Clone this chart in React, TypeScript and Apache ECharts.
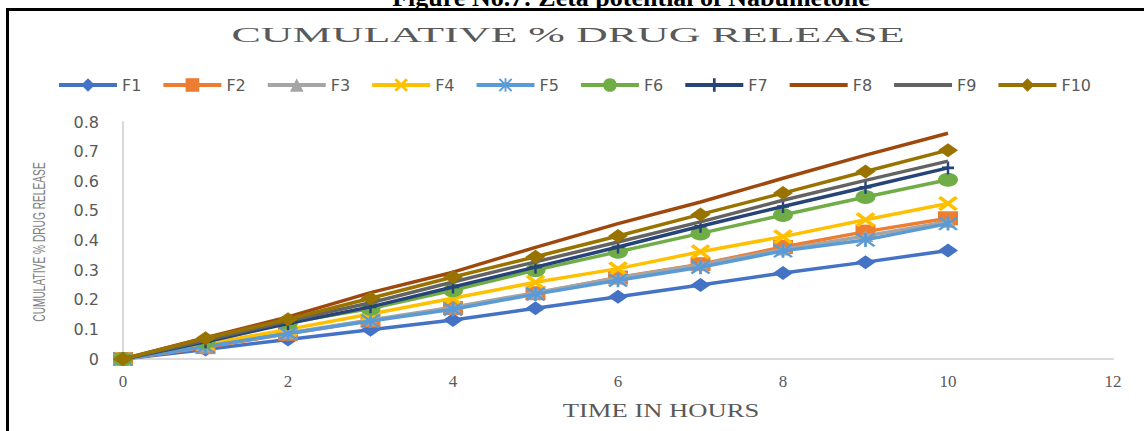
import React, { useEffect, useRef } from "react";
import * as echarts from "echarts";

const hours = [0, 1, 2, 3, 4, 5, 6, 7, 8, 9, 10];
const seriesNames = ["F1", "F2", "F3", "F4", "F5", "F6", "F7", "F8", "F9", "F10"];
const f1 = [0, 0.032, 0.066, 0.099, 0.132, 0.171, 0.21, 0.25, 0.29, 0.327, 0.366];
const f2 = [0, 0.04, 0.085, 0.13, 0.172, 0.222, 0.275, 0.32, 0.378, 0.43, 0.475];
const f3 = [0, 0.042, 0.088, 0.132, 0.175, 0.224, 0.274, 0.318, 0.37, 0.415, 0.463];
const f4 = [0, 0.05, 0.1, 0.152, 0.205, 0.259, 0.305, 0.362, 0.413, 0.47, 0.525];
const f5 = [0, 0.042, 0.086, 0.128, 0.168, 0.219, 0.266, 0.31, 0.365, 0.402, 0.457];
const f6 = [0, 0.058, 0.122, 0.17, 0.232, 0.3, 0.362, 0.424, 0.486, 0.547, 0.605];
const f7 = [0, 0.058, 0.12, 0.176, 0.243, 0.31, 0.378, 0.448, 0.515, 0.58, 0.645];
const f8 = [0, 0.072, 0.142, 0.224, 0.293, 0.377, 0.457, 0.53, 0.61, 0.688, 0.762];
const f9 = [0, 0.063, 0.128, 0.19, 0.26, 0.328, 0.395, 0.463, 0.536, 0.603, 0.668];
const f10 = [0, 0.07, 0.134, 0.205, 0.277, 0.345, 0.415, 0.488, 0.56, 0.633, 0.705];
const allValues = [f1, f2, f3, f4, f5, f6, f7, f8, f9, f10];

const headingText = "Figure No.7: Zeta potential of Nabumetone";
const chartTitle = "CUMULATIVE % DRUG RELEASE";
const xTitle = "TIME IN HOURS";
const yTitle = "CUMULATIVE % DRUG RELEASE";

const colors = ["#4472C4", "#ED7D31", "#A5A5A5", "#FFC000", "#5B9BD5", "#70AD47", "#264478", "#9E480E", "#636363", "#997300"];

const xSym = "path://M0,1.5L1.5,0L10,8.5L8.5,10Z M8.5,0L10,1.5L1.5,10L0,8.5Z";
const starSym = "path://M0,1L1,0L10,9L9,10Z M9,0L10,1L1,10L0,9Z M4.3,0L5.7,0L5.7,10L4.3,10Z";
const plusSym = "path://M4,0L6,0L6,4L10,4L10,6L6,6L6,10L4,10L4,6L0,6L0,4L4,4Z";
const symbols = ["diamond", "rect", "triangle", xSym, starSym, "circle", plusSym, "none", "none", "diamond"];
const symbolSizes = [[20, 14], [20, 14], [16, 12], [20, 15], [20, 14], [20, 14], [12, 13], 0, 0, [20, 14]];
const noMarker = [false, false, false, false, false, false, false, true, true, false];

export default function App() {
  const ref = useRef<HTMLDivElement>(null);
  useEffect(() => {
    document.body.style.margin = "0";
    const chart = echarts.init(ref.current!, null, { renderer: "svg" });
    const series = seriesNames.map((name, i) => ({
      name,
      type: "line",
      data: hours.map((h, j) => [h, allValues[i][j]]),
      symbol: symbols[i],
      symbolSize: symbolSizes[i],
      showAllSymbol: true,
      lineStyle: { color: colors[i], width: 3.5 },
      itemStyle: { color: colors[i] },
      z: 2 + i,
    }));
    const legendData = seriesNames.map((name, i) =>
      noMarker[i] ? { name, itemStyle: { opacity: 0 } } : { name }
    );
    chart.setOption({
      animation: false,
      backgroundColor: "#ffffff",
      legend: {
        data: legendData,
        left: 52,
        top: 72,
        itemWidth: 58,
        itemHeight: 17,
        itemGap: 20,
        lineStyle: { width: 4 },
        textStyle: { color: "#595959", fontSize: 16, fontFamily: "DejaVu Sans" },
      },
      grid: { left: 123, right: 31, top: 122, bottom: 72 },
      xAxis: {
        type: "value",
        min: 0,
        max: 12,
        interval: 2,
        axisLine: { show: true, lineStyle: { color: "#d9d9d9", width: 2 } },
        axisTick: { show: false },
        splitLine: { show: false },
        axisLabel: { color: "#595959", fontSize: 17, fontFamily: "Liberation Serif", margin: 14 },
      },
      yAxis: {
        type: "value",
        min: 0,
        max: 0.8,
        interval: 0.1,
        axisLine: { show: true, lineStyle: { color: "#d9d9d9", width: 2 } },
        axisTick: { show: false },
        splitLine: { show: false },
        axisLabel: { color: "#595959", fontSize: 16, fontFamily: "DejaVu Sans", margin: 24 },
      },
      graphic: [
        {
          type: "text",
          x: 631,
          y: -3,
          style: {
            text: headingText,
            fill: "#000000",
            font: "bold 26px 'Liberation Serif'",
            textAlign: "center",
            textVerticalAlign: "middle",
          },
        },
        { type: "rect", shape: { x: 6, y: 8, width: 1138, height: 3 }, style: { fill: "#000000" } },
        { type: "rect", shape: { x: 6, y: 8, width: 3, height: 423 }, style: { fill: "#000000" } },
        {
          type: "text",
          x: 568,
          y: 35,
          scaleX: 2.0,
          style: {
            text: chartTitle,
            fill: "#595959",
            font: "22px 'Liberation Serif'",
            textAlign: "center",
            textVerticalAlign: "middle",
          },
        },
        {
          type: "text",
          x: 661,
          y: 410,
          scaleX: 1.4,
          style: {
            text: xTitle,
            fill: "#595959",
            font: "19px 'Liberation Serif'",
            textAlign: "center",
            textVerticalAlign: "middle",
          },
        },
        {
          type: "text",
          x: 40,
          y: 242,
          rotation: Math.PI / 2,
          scaleX: 0.85,
          scaleY: 1.3,
          style: {
            text: yTitle,
            fill: "#7f7f7f",
            font: "12px 'Liberation Sans'",
            textAlign: "center",
            textVerticalAlign: "middle",
          },
        },
      ],
      series,
    });
    return () => chart.dispose();
  }, []);
  return <div ref={ref} style={{ width: 1144, height: 431 }} />;
}
